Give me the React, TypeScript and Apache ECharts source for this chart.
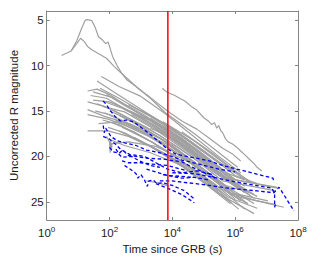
import React, { useEffect, useRef } from "react";
import * as echarts from "echarts";

// ---- data (time since GRB in s, uncorrected R magnitude) ----
const redLineTime = 7200;
const xTickValues = [1, 100, 1e4, 1e6, 1e8];
const yTickValues = [5, 10, 15, 20, 25];

const grayCurves: number[][][] = [
  [[3,8.9],[6,8.4],[9,7.3],[13,5.9],[17,5.0],[20,4.95],[27,5.05],[35,5.8],[44,6.8],[60,7.2],[75,7.6],[90,7.4],[100,7.9],[125,9.0],[180,10.1],[250,10.9],[360,11.6],[700,12.3],[1500,13.2],[3000,14.0],[7000,15.0],[2e4,16.1],[6e4,17.0],[1.5e5,18.0],[4e5,19.1],[8e5,19.7],[1.5e6,20.5]],
  [[6,8.4],[9,7.6],[12,7.0],[16,7.4],[20,7.9],[28,8.3],[45,8.7],[80,9.2],[140,10.1],[200,10.6],[360,11.4],[800,12.5],[2000,13.6],[6000,15.2],[2e4,16.5],[6e4,17.7],[2e5,19.1],[6e5,20.4],[1.2e6,21.2]],
  [[4800,12.5],[6000,12.8],[7500,13.0],[1.2e4,13.3],[1.7e4,13.6],[2.5e4,13.9],[4e4,14.5],[6e4,14.9],[1e5,15.75],[1.4e5,16.1],[1.8e5,16.5],[2.2e5,16.3],[2.6e5,16.9],[3e5,16.6],[3.5e5,17.2],[4e5,17.4],[5e5,18.1],[6e5,18.4],[8e5,18.6],[1.05e6,18.9],[1.5e6,19.4],[2e6,19.8],[3e6,20.4],[4e6,20.8],[5e6,21.2],[7e6,21.6]],
  [[55,11.2],[200,12.3],[1000,13.4],[6000,15.3],[4e4,17.6],[3e5,20.0],[1.5e6,21.8]],
  [[20,12.8],[40,12.6],[100,13.2],[300,14.3],[3000,16.4],[3e4,18.7],[3e5,21.2],[2e6,23.3]],
  [[40,11.7],[150,13.0],[1000,14.8],[1e4,17.0],[1e5,19.5],[8e5,21.8]],
  [[25,13.3],[80,13.6],[500,15.2],[5000,17.3],[5e4,19.8],[5e5,22.4],[2.2e7,23.4]],
  [[20,14.0],[70,14.5],[400,15.8],[4000,17.7],[4e4,20.0],[4e5,22.7],[2e7,23.8]],
  [[20,14.85],[70,15.6],[500,16.5],[5000,18.2],[5e4,20.7],[5e5,23.2],[3e6,24.0]],
  [[20,15.4],[90,15.9],[800,17.1],[8000,18.8],[8e4,21.4],[8e5,24.1],[5e6,24.9],[3.5e7,25.6]],
  [[20,17.2],[90,17.2],[400,17.8],[3000,19.2],[3e4,21.1],[3e5,23.4],[2.5e6,25.2]],
  [[30,13.8],[100,14.0],[600,15.2],[6000,16.8],[6e4,19.2],[6e5,21.9],[2e6,22.6]],
  [[50,12.5],[200,13.6],[2000,15.6],[2e4,17.8],[2e5,20.3],[1.5e6,22.0]],
  [[60,14.5],[300,15.1],[3000,17.1],[3e4,19.5],[3e5,22.0],[3e6,24.3]],
  [[80,13.2],[300,14.4],[3000,16.3],[3e4,18.6],[2e5,20.9]],
  [[100,15.0],[400,15.9],[4000,18.0],[4e4,20.4],[4e5,23.0],[4e6,25.2]],
  [[60,16.0],[200,16.5],[2000,18.3],[2e4,20.5],[2e5,22.9],[2e6,25.8]],
  [[90,16.8],[300,17.4],[3000,19.2],[3e4,21.4],[3e5,24.1],[4e6,26.3]],
  [[80,17.8],[100,18.4],[105,19.6],[110,18.2],[300,18.8],[2000,19.6],[2e4,21.0],[2e5,23.5],[1.3e6,25.8]],
  [[150,14.2],[800,15.5],[8000,17.6],[8e4,20.0],[8e5,22.5],[2.2e7,23.5]],
  [[200,15.5],[1000,16.7],[1e4,18.8],[1e5,21.4],[1e6,24.1],[1.1e7,24.9]],
  [[120,16.3],[600,17.3],[6000,19.3],[6e4,21.7],[6e5,24.5],[5e6,25.7]],
  [[300,14.8],[2000,16.1],[2e4,18.4],[2e5,21.0],[2e6,23.7]],
  [[500,15.4],[5000,17.4],[5e4,19.9],[5e5,22.5],[4e6,24.6]],
  [[1000,14.9],[1e4,16.9],[1e5,19.4],[1e6,22.1],[5e6,23.0]],
  [[2000,15.8],[2e4,18.0],[2e5,20.8],[1.5e6,23.4]],
  [[800,16.6],[8000,18.6],[8e4,21.2],[8e5,23.9],[2.5e6,25.2]],
  [[1500,22.7],[3500,22.9],[8000,23.3]],
  [[3000,17.0],[3e4,19.2],[3e5,21.8],[2e6,24.0]],
  [[40,14.2],[150,15.0],[1500,16.8],[1.5e4,19.0],[1.5e5,21.4],[1.2e6,23.5]],
  [[70,15.2],[250,16.1],[2500,18.0],[2.5e4,20.3],[2.5e5,22.8],[1e6,24.7]],
  [[150,16.0],[700,16.9],[7000,18.9],[7e4,21.3],[7e5,23.7]],
  [[250,16.8],[2500,18.5],[2.5e4,20.8],[2.5e5,23.5],[8e5,25.2]],
  [[400,14.3],[4000,16.1],[4e4,18.4],[4e5,20.9],[3e6,22.9]],
  [[35,15.0],[100,15.4],[1000,17.0],[1e4,19.3],[1e5,21.8],[1e6,24.4],[2e7,25.3]],
  [[60,13.9],[250,14.7],[2500,16.5],[2.5e4,18.9],[2.5e5,21.5],[2e6,23.8]],
  [[5000,16.2],[5e4,18.3],[5e5,20.9],[3e6,22.8]],
  [[1e4,17.8],[1e5,20.4],[1e6,23.2],[5e6,24.4]],
  [[200,17.2],[2000,18.9],[2e4,21.1],[2e5,23.7],[7e5,25.2]],
  [[600,17.9],[6000,19.7],[6e4,22.0],[3e5,23.8]],
  [[2e4,17.3],[2e5,19.7],[1e6,21.6]],
  [[110,18.5],[115,19.4],[120,18.6],[400,18.4],[3000,18.9],[3e4,20.5],[3e5,22.8]],
  [[2000,16.9],[5000,17.5],[6000,16.9],[7000,17.8],[1.5e4,18.3],[1.8e4,17.9],[5e4,19.6],[5e5,22.3],[4e6,24.2]],
  [[30,12.9],[120,13.5],[1200,15.4],[1.2e4,17.6],[1.2e5,20.1],[1e6,22.6]],
  [[45,16.4],[180,16.2],[1800,17.8],[1.8e4,19.9],[1.8e5,22.4],[1.5e6,24.9]],
];

const blueCurves: number[][][] = [
  [[63,13.9],[80,14.3],[100,14.85],[150,15.6],[220,16.1],[350,16.0],[580,16.2],[1050,16.85],[2000,17.6],[3000,18.1],[6000,19.0],[1.2e4,19.7],[2e4,19.9],[6e4,20.2],[1.5e5,20.5],[4e5,21.0],[1.5e6,21.5],[1.6e7,22.4],[1.7e7,22.8]],
  [[63,16.6],[68,17.4],[75,16.9],[90,17.3],[110,17.8],[180,18.3],[300,18.5],[700,18.8],[1500,19.3],[4000,19.6],[8000,19.9],[2e4,20.4],[8e4,20.9],[3e5,21.4],[1e6,21.7]],
  [[63,17.8],[100,18.1],[160,18.7],[220,19.2],[450,19.8],[1300,20.0],[3000,20.7],[7000,21.4],[2e4,21.8],[6e4,21.6],[1.5e5,21.9],[2.5e5,22.5]],
  [[160,19.2],[200,19.7],[260,19.3],[400,19.9],[700,20.0],[1500,20.2],[5000,20.3],[2e4,20.6],[5e4,21.3],[1.2e5,21.9],[2e5,22.0]],
  [[250,20.5],[400,20.7],[1000,20.7],[3000,20.9],[7000,21.0],[3e4,21.6]],
  [[300,21.0],[500,21.5],[700,21.9],[800,22.4],[1000,22.0],[1300,22.6],[1600,23.3],[1800,22.7],[2500,22.6],[3200,23.0],[5000,22.9],[1e4,23.2],[2.5e4,23.8],[5e4,24.7]],
  [[1500,21.4],[7000,22.1],[5e4,22.3]],
  [[4000,22.7],[1e4,22.7],[3e4,22.9],[1e5,23.1],[6e5,23.5],[5e6,23.8],[1.7e7,24.0],[2.5e7,23.4],[7.5e7,26.0]],
  [[3000,23.0],[7000,23.5],[2e4,24.2],[5e4,25.1]],
  [[5000,22.0],[2e4,22.4],[5e4,22.3],[1.5e5,22.6]],
  [[1e4,21.8],[5e4,21.9],[2e5,22.3],[1e6,22.8],[1.5e7,23.5],[1.8e7,24.2],[1.8e7,25.6],[1.9e7,25.3]],
  [[100,19.0],[130,19.5],[180,19.6],[250,20.1],[500,20.0],[900,20.5],[2000,21.0],[4000,21.2]],
];

const FONT = "'Liberation Sans', Arial, sans-serif";
const AXIS_COLOR = "#858585";
const TEXT_COLOR = "#1a1a1a";

export default function App() {
  const ref = useRef<HTMLDivElement>(null);
  useEffect(() => {
    if (!ref.current) return;
    const chart = echarts.init(ref.current, undefined, { renderer: "svg" });
    const series: any[] = [];
    grayCurves.forEach((c) =>
      series.push({
        type: "line",
        data: c,
        showSymbol: false,
        silent: true,
        z: 2,
        lineStyle: { color: "#a0a0a0", width: 1.2 },
      })
    );
    blueCurves.forEach((c) =>
      series.push({
        type: "line",
        data: c,
        showSymbol: false,
        silent: true,
        z: 3,
        lineStyle: { color: "#0000ff", width: 1.3, type: [3.5, 2.5] },
      })
    );
    series.push({
      type: "line",
      data: [[redLineTime, 4], [redLineTime, 27]],
      showSymbol: false,
      silent: true,
      z: 4,
      lineStyle: { color: "#ff0000", width: 1.5 },
    });
    const xCommon = {
      type: "log",
      logBase: 10,
      min: 1,
      max: 1e8,
      interval: 2,
      axisLine: { show: true, lineStyle: { color: AXIS_COLOR, width: 1 } },
      axisTick: { show: true, inside: true, length: 3, lineStyle: { color: AXIS_COLOR } },
      splitLine: { show: false },
      minorTick: { show: false },
    };
    const yCommon = {
      type: "value",
      inverse: true,
      min: 4,
      max: 27,
      axisLine: { show: true, lineStyle: { color: AXIS_COLOR, width: 1 } },
      axisTick: { show: true, inside: true, length: 3, customValues: yTickValues, lineStyle: { color: AXIS_COLOR } },
      splitLine: { show: false },
    };
    chart.setOption({
      animation: false,
      grid: { left: 36, right: 25, top: 11, bottom: 48 },
      xAxis: [
        {
          ...xCommon,
          position: "bottom",
          name: "Time since GRB (s)",
          nameLocation: "middle",
          nameGap: 19,
          nameTextStyle: { fontFamily: FONT, fontSize: 11.5, color: TEXT_COLOR },
          axisLabel: {
            margin: 5,
            formatter: (v: number) => {
              const e = Math.round(Math.log10(v));
              return xTickValues.includes(Math.pow(10, e)) ? `{b|10}{s|${e}}` : "";
            },
            rich: {
              b: { fontFamily: FONT, fontSize: 11.5, color: TEXT_COLOR },
              s: { fontFamily: FONT, fontSize: 8, color: TEXT_COLOR, padding: [0, 0, 7, 0] },
            },
          },
        },
        { ...xCommon, position: "top", axisLabel: { show: false } },
      ],
      yAxis: [
        {
          ...yCommon,
          position: "left",
          name: "Uncorrected R magnitude",
          nameLocation: "middle",
          nameGap: 20,
          nameTextStyle: { fontFamily: FONT, fontSize: 11.5, color: TEXT_COLOR },
          axisLabel: {
            customValues: yTickValues,
            margin: 3,
            fontFamily: FONT,
            fontSize: 11.5,
            color: TEXT_COLOR,
          },
        },
        { ...yCommon, position: "right", axisLabel: { show: false } },
      ],
      series,
    });
    return () => chart.dispose();
  }, []);
  return (
    <div
      ref={ref}
      style={{ position: "fixed", left: 0, top: 0, width: 323, height: 268, background: "#fff" }}
    />
  );
}
